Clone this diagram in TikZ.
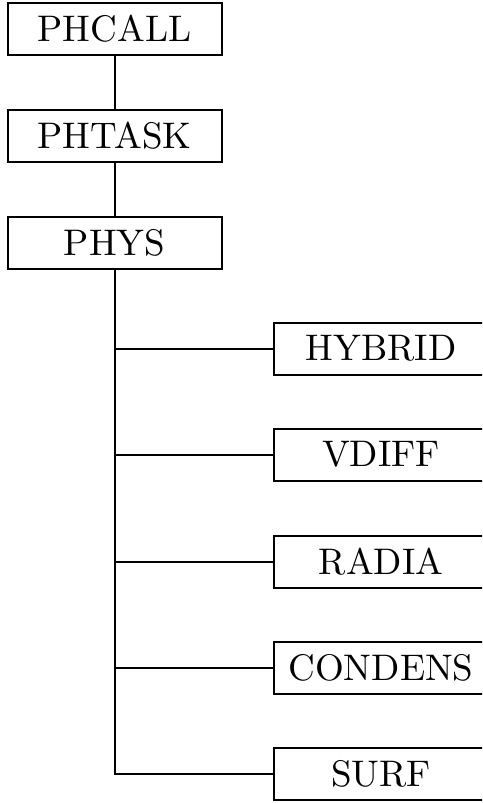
\documentclass[tikz,border=0pt]{standalone}
\usepackage{fontspec}
\newfontfamily\lmten{lmroman10-regular}[Extension=.otf]
\begin{document}
\begin{tikzpicture}[x=1pt,y=-1pt,
  box/.style={draw, line width=2pt, minimum width=214pt, minimum height=52pt, inner sep=0pt,
    font=\lmten\fontsize{37pt}{41pt}\selectfont},
  link/.style={line width=2pt}]
\clip (0,0) rectangle (482,803);
\useasboundingbox (0,0) rectangle (482,803);
\node[box] (phcall) at (114.5,29) {PHCALL};
\node[box] (phtask) at (114.5,136) {PHTASK};
\node[box] (phys) at (114.5,243) {PHYS};
\node[box] (hybrid) at (381,348.5) {HYBRID};
\node[box] (vdiff) at (381,454.5) {VDIFF};
\node[box] (radia) at (381,561.5) {RADIA};
\node[box] (condens) at (381,667.5) {CONDENS};
\node[box] (surf) at (381,773.5) {SURF};
\draw[link] (phcall) -- (phtask);
\draw[link] (phtask) -- (phys);
\draw[link] (phys.south) -- (phys.south |- surf.west) -- (surf.west);
\foreach \n in {hybrid,vdiff,radia,condens}
  \draw[link] (phys.south |- \n.west) -- (\n.west);
\end{tikzpicture}
\end{document}
